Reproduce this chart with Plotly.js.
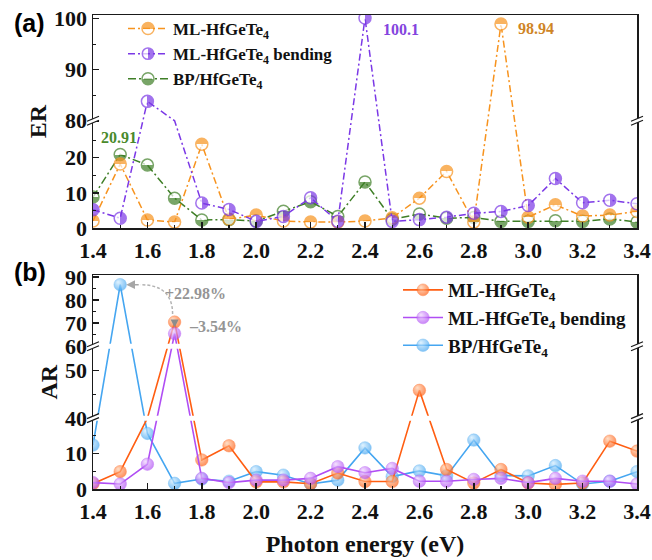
<!DOCTYPE html>
<html><head><meta charset="utf-8">
<script src="https://cdn.plot.ly/plotly-3.0.1.min.js"></script>
<style>html,body{margin:0;padding:0;background:#fff;} #chart{width:652px;height:560px;}</style>
</head><body><div id="chart"></div>
<script>
// ---------------- data ----------------
var energy = [1.4,1.5,1.6,1.7,1.8,1.9,2.0,2.1,2.2,2.3,2.4,2.5,2.6,2.7,2.8,2.9,3.0,3.1,3.2,3.3,3.4];
var seriesNames = ['ML-HfGeTe<sub>4</sub>', 'ML-HfGeTe<sub>4</sub> bending', 'BP/HfGeTe<sub>4</sub>'];
// (a) extinction ratio
var erML   = [2.0, 18.2, 2.3, 1.7, 23.8, 2.5, 3.7, 2.0, 1.7, 1.7, 2.0, 2.9, 8.5, 16.1, 1.7, 98.94, 3.1, 6.6, 3.4, 3.7, 4.7];
var erBend = [5.2, 2.8, 83.8, 50, 7.1, 5.3, 1.9, 3.3, 8.6, 1.9, 100.1, 1.9, 2.4, 3.1, 4.2, 4.7, 6.4, 14.1, 7.2, 7.9, 6.9];
var erBP   = [8.8, 20.91, 17.9, 8.5, 2.3, 2.4, 2.0, 4.8, 7.5, 3.3, 13.1, 2.5, 4.0, 2.8, 3.0, 1.9, 1.9, 2.1, 1.9, 2.6, 1.7];
// (b) anisotropy ratio
var arML   = [1.5, 4.9, 30, 70.5, 8.2, 12.2, 2.0, 2.0, 1.5, 4.5, 2.1, 2.1, 45.8, 5.5, 1.7, 5.5, 1.7, 1.3, 1.7, 13.5, 10.7];
var arBend = [1.8, 1.4, 7.0, 65.5, 3.0, 1.8, 2.5, 2.5, 3.0, 6.3, 4.6, 5.8, 2.2, 2.2, 2.7, 3.0, 1.8, 3.0, 2.2, 2.2, 1.4];
var arBP   = [12.4, 86.7, 15.7, 1.6, 2.8, 2.2, 4.9, 3.9, 1.4, 2.5, 11.6, 3.5, 5.1, 3.7, 13.8, 3.8, 3.7, 6.6, 1.4, 2.2, 4.9];
// tick labels
var xTicks  = [1.4,1.6,1.8,2.0,2.2,2.4,2.6,2.8,3.0,3.2,3.4];
var xMinor  = [1.5,1.7,1.9,2.1,2.3,2.5,2.7,2.9,3.1,3.3];
var erTicks = [0,10,20,80,90,100];
var erMinor = [5,15,25,85,95];
var arTicks = [0,10,40,50,60,70,80,90];
var arMinor = [5,15,45,65,75,85];
var pctUp = '+22.98%';
var pctDown = '\u20133.54%';

// ---------------- broken-axis scales ([lo, hi, pixel span]) ----------------
var brokenA = [[0,30.5,107.5],[80,100.7,106]];
var brokenB = [[0,20,71],[40,55,72],[60,90.7,71]];
function breakMap(segs){
  return function(v){
    var off = 0;
    for (var i = 0; i < segs.length; i++){
      var s = segs[i];
      if (v <= s[1] || i === segs.length - 1){
        if (v < s[0]) return off;
        return off + (v - s[0]) / (s[1] - s[0]) * s[2];
      }
      off += s[2];
    }
  };
}
function inGap(segs, v){
  for (var i = 0; i < segs.length; i++){ if (v >= segs[i][0] && (v <= segs[i][1] || i === segs.length-1)) return false; }
  return true;
}
function span(segs){ return segs.reduce(function(a,s){return a+s[2];},0); }
var tfA = breakMap(brokenA), tfB = breakMap(brokenB);
var rangeA = span(brokenA), rangeB = span(brokenB);

// ---------------- geometry ----------------
var W = 652, H = 560, mL = 93, mR = 15, mT = 14, mB = 71;
var plotH = H - mT - mB, plotW = W - mL - mR;
var domA = [1 - rangeA/plotH, 1];
var domB = [0, rangeB/plotH];
var kx = plotW / (xTicks[xTicks.length-1] - xTicks[0]); // px per eV

var serif = 'Liberation Serif, Times New Roman, serif';
var ink = '#1a1a1a';

// ---------------- colours ----------------
var orangeA = '#F7931E', purpleA = '#7B38E6', greenA = '#3F7F27';
var orangeB = '#FF5E12', purpleB = '#B04EF4', blueB = '#45A6F1';
// which half of each panel-(a) marker is filled
var halfFill = [{color: orangeA, side: 'top'}, {color: purpleA, side: 'right'}, {color: greenA, side: 'bottom'}];

// ---------------- traces ----------------
var traces = [];
var erStyles = [
  {y: erBP,   name: seriesNames[2], color: greenA,  rank: 3, dash: '8px,3px,2px,3px'},
  {y: erML,   name: seriesNames[0], color: orangeA, rank: 1, dash: '7px,3px,2px,3px'},
  {y: erBend, name: seriesNames[1], color: purpleA, rank: 2, dash: '7px,3px,2px,3px'}
];
erStyles.forEach(function(s){
  traces.push({
    x: energy, y: s.y.map(tfA), name: s.name, legend: 'legend', legendrank: s.rank,
    xaxis: 'x', yaxis: 'y', mode: 'lines+markers', hoverinfo: 'skip',
    line: {color: s.color, width: 1.5, dash: s.dash},
    marker: {symbol: 'circle', size: s.y.map(function(v){return inGap(brokenA, v) ? 0 : 12;}),
             color: s.color, gradient: {type: 'vertical', color: '#ffffff'}, line: {color: s.color, width: 1.5}}
  });
});
var arStyles = [
  {y: arBP,   name: seriesNames[2], color: blueB,   light: '#D4EEFF', rank: 3},
  {y: arML,   name: seriesNames[0], color: orangeB, light: '#FFD2B0', rank: 1},
  {y: arBend, name: seriesNames[1], color: purpleB, light: '#F0D6FF', rank: 2}
];
arStyles.forEach(function(s){
  traces.push({
    x: energy, y: s.y.map(tfB), name: s.name, legend: 'legend2', legendrank: s.rank,
    xaxis: 'x2', yaxis: 'y2', mode: 'lines+markers', hoverinfo: 'skip',
    line: {color: s.color, width: 1.6},
    marker: {symbol: 'circle', size: s.y.map(function(v){return inGap(brokenB, v) ? 0 : 12.5;}),
             color: s.color, gradient: {type: 'radial', color: s.light}, line: {color: s.color, width: 0.5}}
  });
});

// ---------------- break marks ----------------
var shapes = [];
function addBreaks(dom, range, vs, band){
  vs.forEach(function(v){
    var py = dom[0] + v / range * (dom[1] - dom[0]);
    if (band) shapes.push({type: 'rect', xref: 'paper', yref: 'paper', ysizemode: 'pixel', yanchor: py,
      x0: 0, x1: 1, y0: -2.5, y1: 2.5, fillcolor: '#ffffff', line: {width: 0}, layer: 'above'});
    [0, 1].forEach(function(px){
      shapes.push({type: 'path', xref: 'paper', yref: 'paper', xsizemode: 'pixel', ysizemode: 'pixel',
        xanchor: px, yanchor: py, path: 'M-6,-4.5L6,0.5L6,4.5L-6,-0.5Z', fillcolor: '#ffffff', line: {width: 0}, layer: 'above'});
      shapes.push({type: 'path', xref: 'paper', yref: 'paper', xsizemode: 'pixel', ysizemode: 'pixel',
        xanchor: px, yanchor: py, path: 'M-6,-4.5L6,0.5M-6,-0.5L6,4.5', line: {color: ink, width: 1.2}, layer: 'above'});
    });
  });
}
addBreaks(domA, rangeA, [brokenA[0][2]], false);
addBreaks(domB, rangeB, [brokenB[0][2], brokenB[0][2] + brokenB[1][2]], true);

// dashed arc from ML peak to BP peak
var bx = energy[1], by = tfB(arBP[1]);
var ox = energy[3], oy = tfB(arML[3]);
shapes.push({type: 'path', xref: 'x2', yref: 'y2', layer: 'above',
  path: 'M' + (ox - 2/kx) + ',' + (oy + 8) + ' Q' + (ox - 2/kx) + ',' + by + ' ' + (bx + 20/kx) + ',' + by,
  line: {color: '#b3b3b3', width: 1.5, dash: '3px,2px'}});

// ---------------- annotations ----------------
var annFont = function(c, s){ return {family: serif, size: s || 16, weight: 'bold', color: c}; };
var annotations = [
  {xref: 'paper', yref: 'paper', x: (12 - mL)/plotW, y: (mT + plotH - 22)/plotH, xanchor: 'left', yanchor: 'middle',
   text: '(a)', showarrow: false, font: {family: 'Liberation Sans, Arial, sans-serif', size: 25, weight: 'bold', color: '#000'}},
  {xref: 'paper', yref: 'paper', x: (12 - mL)/plotW, y: (mT + plotH - 272)/plotH, xanchor: 'left', yanchor: 'middle',
   text: '(b)', showarrow: false, font: {family: 'Liberation Sans, Arial, sans-serif', size: 25, weight: 'bold', color: '#000'}},
  {xref: 'x', yref: 'y', x: energy[1], y: tfA(erBP[1]), yshift: 17, xshift: -1, showarrow: false,
   text: erBP[1].toFixed(2), font: annFont('#4A8A2C')},
  {xref: 'x', yref: 'y', x: energy[10], y: tfA(erBend[10]), xanchor: 'left', xshift: 16, yshift: -11, showarrow: false,
   text: erBend[10].toFixed(1), font: annFont('#8444DE')},
  {xref: 'x', yref: 'y', x: energy[15], y: tfA(erML[15]), xanchor: 'left', xshift: 15, yshift: -5, showarrow: false,
   text: erML[15].toFixed(2), font: annFont('#CF8526')},
  {xref: 'x2', yref: 'y2', x: bx, y: by, ax: 20, ay: 0, text: '', showarrow: true, arrowhead: 2, arrowsize: 1.1,
   arrowwidth: 1.6, arrowcolor: '#a6a6a6', standoff: 6},
  {xref: 'x2', yref: 'y2', x: ox, y: tfB(arBend[3]), ax: 0, ay: -13, text: '', showarrow: true, arrowhead: 2, arrowsize: 1,
   arrowwidth: 1.6, arrowcolor: '#8c8c8c', standoff: 6},
  {xref: 'paper', yref: 'paper', x: (163 - mL)/plotW, y: (mT + plotH - 293)/plotH, xanchor: 'left', yanchor: 'middle',
   text: pctUp, showarrow: false, font: annFont('#959595')},
  {xref: 'paper', yref: 'paper', x: (187 - mL)/plotW, y: (mT + plotH - 326)/plotH, xanchor: 'left', yanchor: 'middle',
   text: pctDown, showarrow: false, font: annFont('#959595')}
];

// ---------------- axes ----------------
function xAxis(anchor, withTitle){
  var ax = {domain: [0, 1], anchor: anchor, range: [xTicks[0], xTicks[xTicks.length-1]],
    tickmode: 'array', tickvals: xTicks, ticktext: xTicks.map(function(v){return v.toFixed(1);}),
    ticks: 'inside', ticklen: 6, tickwidth: 1.5, tickcolor: ink, ticklabelstandoff: 2,
    minor: {tickmode: 'array', tickvals: xMinor, ticks: 'inside', ticklen: 3, tickwidth: 1.2, tickcolor: ink, showgrid: false},
    showline: true, mirror: true, linecolor: ink, linewidth: 1.5, showgrid: false, zeroline: false,
    tickfont: {family: serif, size: 22, weight: 'bold', color: '#111'}};
  if (withTitle) ax.title = {text: 'Photon energy (eV)', standoff: 12, font: {family: serif, size: 24, weight: 'bold', color: '#111'}};
  return ax;
}
function yAxis(anchor, dom, range, tf, ticks, minor, title){
  return {domain: dom, anchor: anchor, range: [0, range], tickmode: 'array',
    tickvals: ticks.map(tf), ticktext: ticks.map(String),
    ticks: 'inside', ticklen: 6, tickwidth: 1.5, tickcolor: ink,
    minor: {tickmode: 'array', tickvals: minor.map(tf), ticks: 'inside', ticklen: 3, tickwidth: 1.2, tickcolor: ink, showgrid: false},
    showline: true, mirror: true, linecolor: ink, linewidth: 1.5, showgrid: false, zeroline: false,
    tickfont: {family: serif, size: 22, weight: 'bold', color: '#111'},
    title: {text: title, standoff: 0, font: {family: serif, size: 24, weight: 'bold', color: '#111'}}};
}

var layout = {
  width: W, height: H, margin: {l: mL, r: mR, t: mT, b: mB},
  paper_bgcolor: '#ffffff', plot_bgcolor: '#ffffff', showlegend: true,
  xaxis: xAxis('y', false),
  xaxis2: xAxis('y2', true),
  yaxis: yAxis('x', domA, rangeA, tfA, erTicks, erMinor, 'ER'),
  yaxis2: yAxis('x2', domB, rangeB, tfB, arTicks, arMinor, 'AR'),
  legend: {x: (123 - mL)/plotW, y: (mT + plotH - 11)/plotH, xanchor: 'left', yanchor: 'top',
    bgcolor: 'rgba(0,0,0,0)', itemwidth: 40, traceorder: 'normal',
    font: {family: serif, size: 17, weight: 'bold', color: '#111'}},
  legend2: {x: (398 - mL)/plotW, y: (mT + plotH - 271)/plotH, xanchor: 'left', yanchor: 'top',
    bgcolor: 'rgba(0,0,0,0)', itemwidth: 40, traceorder: 'normal',
    font: {family: serif, size: 19, weight: 'bold', color: '#111'}},
  shapes: shapes,
  annotations: annotations
};

function rgbOf(str){
  str = String(str || '').trim();
  if (str.charAt(0) === '#'){
    var h = str.slice(1);
    if (h.length === 3) h = h.split('').map(function(c){return c + c;}).join('');
    return [0, 2, 4].map(function(i){ return parseInt(h.substr(i, 2), 16); });
  }
  var m = str.match(/[\d.]+/g) || [0, 0, 0];
  return m.slice(0, 3).map(Number);
}
function dist(a, b){ return Math.abs(a[0]-b[0]) + Math.abs(a[1]-b[1]) + Math.abs(a[2]-b[2]); }

var gd = document.getElementById('chart');
Plotly.newPlot(gd, traces, layout, {displayModeBar: false, staticPlot: true}).then(function(){
  // hard-edged half-filled markers for panel (a)
  var NS = 'http://www.w3.org/2000/svg';
  gd.querySelectorAll('linearGradient').forEach(function(g){
    var st = g.querySelectorAll('stop');
    if (!st.length) return;
    var col = null;
    st.forEach(function(s){
      var c = rgbOf(s.getAttribute('stop-color') || s.style.stopColor);
      if (dist(c, [255, 255, 255]) > 30) col = c;
    });
    if (!col) return;
    var best = halfFill[0], bd = 1e9;
    halfFill.forEach(function(h){ var d = dist(rgbOf(h.color), col); if (d < bd){ bd = d; best = h; } });
    var horiz = best.side === 'left' || best.side === 'right';
    g.setAttribute('x1', 0); g.setAttribute('y1', 0);
    g.setAttribute('x2', horiz ? 1 : 0); g.setAttribute('y2', horiz ? 0 : 1);
    var firstFilled = best.side === 'top' || best.side === 'left';
    var c1 = firstFilled ? best.color : '#ffffff', c2 = firstFilled ? '#ffffff' : best.color;
    while (g.firstChild) g.removeChild(g.firstChild);
    [[0, c1], [0.5, c1], [0.5, c2], [1, c2]].forEach(function(p){
      var s = document.createElementNS(NS, 'stop');
      s.setAttribute('offset', (p[0] * 100) + '%');
      s.setAttribute('stop-color', p[1]);
      s.setAttribute('stop-opacity', '1');
      g.appendChild(s);
    });
  });
  // sphere highlight for panel (b)
  gd.querySelectorAll('radialGradient').forEach(function(g){
    g.setAttribute('cx', '45%'); g.setAttribute('cy', '42%'); g.setAttribute('r', '60%');
    g.setAttribute('fx', '32%'); g.setAttribute('fy', '28%');
  });
});
</script>
</body></html>
